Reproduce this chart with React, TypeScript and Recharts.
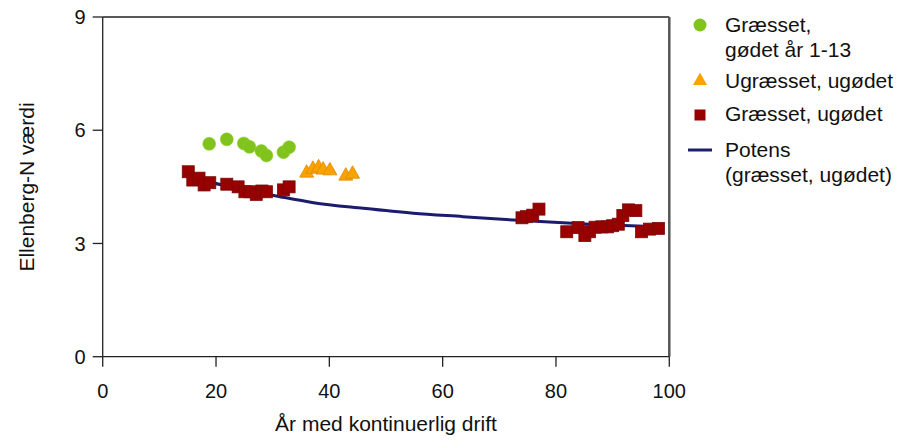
import React from "react";
import {
  ComposedChart,
  Legend,
  Line,
  ReferenceLine,
  Scatter,
  XAxis,
  YAxis,
} from "recharts";

const FONT = "'Liberation Sans', Arial, sans-serif";
const GREEN = "#7fc31c";
const ORANGE = "#f9a200";
const RED = "#990000";
const NAVY = "#1c1c6e";

// Græsset, gødet år 1-13
const godetX = [18.8, 21.9, 24.9, 25.9, 28.0, 28.9, 31.9, 32.9];
const godetY = [5.64, 5.76, 5.65, 5.56, 5.45, 5.33, 5.42, 5.55];

// Ugræsset, ugødet
const ugraesX = [36.0, 37.1, 38.1, 38.9, 40.1, 42.9, 44.1];
const ugraesY = [4.89, 4.99, 5.03, 4.97, 4.95, 4.81, 4.86];

// Græsset, ugødet
const graesX = [
  15.1, 15.9, 17.0, 17.9, 18.9, 21.9, 23.9, 25.1, 26.0, 27.1, 28.1, 28.9, 31.9, 32.9,
  74.0, 74.8, 75.9, 77.0, 81.9, 83.9, 85.1, 85.9, 86.9, 88.1, 89.1, 90.0, 91.0, 91.8,
  92.8, 94.1, 95.1, 96.5, 98.1,
];
const graesY = [
  4.9, 4.68, 4.73, 4.55, 4.61, 4.57, 4.5, 4.37, 4.37, 4.3, 4.39, 4.37, 4.42, 4.5,
  3.68, 3.71, 3.75, 3.91, 3.31, 3.42, 3.21, 3.31, 3.43, 3.44, 3.44, 3.47, 3.51, 3.74,
  3.89, 3.87, 3.31, 3.38, 3.4,
];

// Potens (græsset, ugødet)
const potensX = [15, 19.5, 25, 31.3, 37.2, 46, 54.8, 63.6, 72.5, 86, 98];
const potensY = [4.85, 4.61, 4.43, 4.24, 4.08, 3.93, 3.8, 3.71, 3.62, 3.51, 3.44];

const xTicks = [0, 20, 40, 60, 80, 100];
const yTicks = [0, 3, 6, 9];

const toPoints = (xs: number[], ys: number[]) => xs.map((x, i) => ({ x, y: ys[i] }));

const CircleDot = (p: any) => (
  <circle cx={p.cx} cy={p.cy} r={6.5} fill={GREEN} stroke="#8fd02c" strokeWidth={0.5} />
);
const TriangleDot = (p: any) => {
  const { cx, cy } = p;
  return (
    <polygon
      points={`${cx},${cy - 7.5} ${cx + 7},${cy + 5} ${cx - 7},${cy + 5}`}
      fill={ORANGE}
      stroke="#e08a00"
      strokeWidth={0.8}
    />
  );
};
const SquareDot = (p: any) => (
  <rect x={p.cx - 6} y={p.cy - 6} width={12} height={12} fill={RED} stroke="#7a0a0a" strokeWidth={0.8} />
);

function LegendBox() {
  const text = { fontFamily: FONT, fontSize: 21, fill: "#111" };
  return (
    <svg width={229} height={200}>
      <circle cx={20} cy={25} r={6.5} fill={GREEN} />
      <text x={45} y={32} {...text}>Græsset,</text>
      <text x={45} y={57} {...text}>gødet år 1-13</text>
      <polygon points="20,72.5 27,85 13,85" fill={ORANGE} />
      <text x={45} y={88} {...text}>Ugræsset, ugødet</text>
      <rect x={14.5} y={109.5} width={11} height={11} fill={RED} />
      <text x={45} y={121} {...text}>Græsset, ugødet</text>
      <line x1={8} x2={32} y1={150} y2={150} stroke={NAVY} strokeWidth={3} />
      <text x={45} y={157} {...text}>Potens</text>
      <text x={45} y={182} {...text}>(græsset, ugødet)</text>
    </svg>
  );
}

export default function App() {
  const tick = { fontFamily: FONT, fontSize: 20, fill: "#111" };
  return (
    <div style={{ position: "absolute", left: 0, top: 0, background: "#fff" }}>
      <ComposedChart
        width={909}
        height={441}
        margin={{ top: 17, right: 239.7, bottom: 0, left: 0 }}
      >
        <XAxis
          type="number"
          dataKey="x"
          domain={[0, 100]}
          ticks={xTicks}
          tick={tick}
          tickSize={10}
          tickMargin={17}
          stroke="#222"
          strokeWidth={1.3}
          height={84.3}
          allowDataOverflow
        />
        <YAxis
          type="number"
          dataKey="y"
          domain={[0, 9]}
          ticks={yTicks}
          tick={tick}
          tickSize={10}
          tickMargin={7}
          stroke="#222"
          strokeWidth={1.3}
          width={102.7}
          label={{
            content: () => (
              <text
                x={0}
                y={0}
                transform="translate(34,187) rotate(-90)"
                textAnchor="middle"
                style={{ fontFamily: FONT, fontSize: 21, fill: "#111" }}
              >
                Ellenberg-N værdi
              </text>
            ),
          }}
        />
        <ReferenceLine y={9} stroke="#222" strokeWidth={1.3} ifOverflow="visible" />
        <ReferenceLine x={100} stroke="#555" strokeWidth={2.5} ifOverflow="visible" />
        <Line
          data={toPoints(potensX, potensY)}
          dataKey="y"
          type="monotone"
          stroke={NAVY}
          strokeWidth={3}
          dot={false}
          activeDot={false}
          isAnimationActive={false}
          legendType="line"
          name="Potens (græsset, ugødet)"
        />
        <Scatter
          data={toPoints(godetX, godetY)}
          shape={CircleDot}
          isAnimationActive={false}
          name="Græsset, gødet år 1-13"
        />
        <Scatter
          data={toPoints(ugraesX, ugraesY)}
          shape={TriangleDot}
          isAnimationActive={false}
          name="Ugræsset, ugødet"
        />
        <Scatter
          data={toPoints(graesX, graesY)}
          shape={SquareDot}
          isAnimationActive={false}
          name="Græsset, ugødet"
        />
        <Legend
          layout="vertical"
          align="center"
          verticalAlign="middle"
          content={() => <LegendBox />}
          wrapperStyle={{ left: 680, top: 0, width: 229, height: 200 }}
        />
        <text
          x={386}
          y={431}
          textAnchor="middle"
          style={{ fontFamily: FONT, fontSize: 21, fill: "#111" }}
        >
          År med kontinuerlig drift
        </text>
      </ComposedChart>
    </div>
  );
}
